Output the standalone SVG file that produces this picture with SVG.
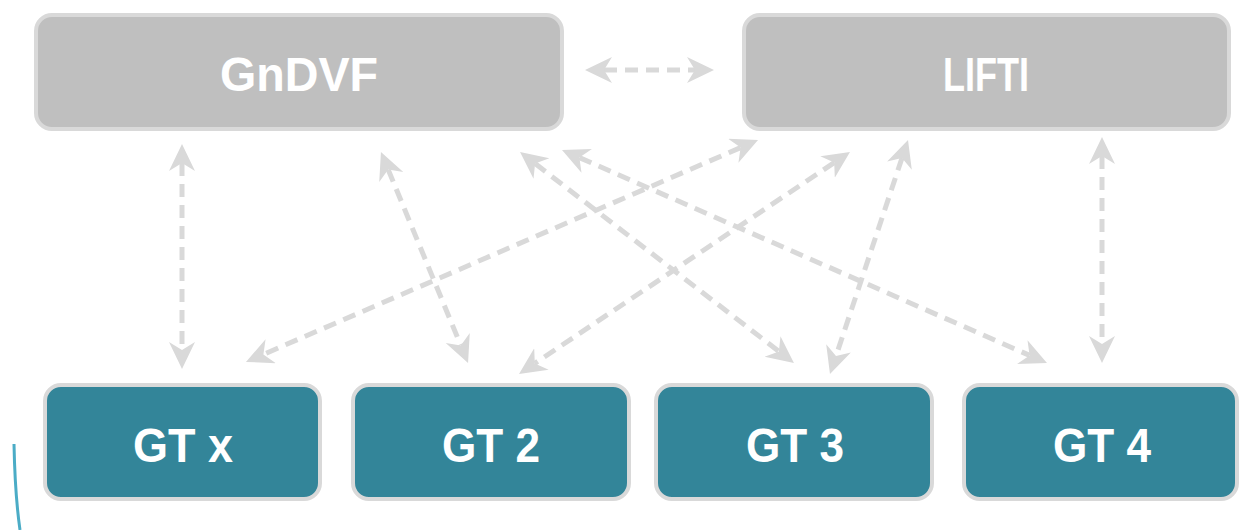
<svg xmlns="http://www.w3.org/2000/svg" width="1240" height="530" viewBox="0 0 1240 530">
<style>
.top rect{fill:#bfbfbf;stroke:#d9d9d9;stroke-width:4}
.gt rect{fill:#338599;stroke:#d9d9d9;stroke-width:4}
text{font-family:"Liberation Sans",Arial,sans-serif;font-weight:bold;font-size:48px;fill:#ffffff;text-anchor:middle}
.conn line{stroke:#d9d9d9;stroke-width:5;stroke-dasharray:13 8;marker-start:url(#ah);marker-end:url(#ah)}
</style>
<defs>
<marker id="ah" markerUnits="userSpaceOnUse" markerWidth="28" markerHeight="27" viewBox="0 0 28 27" refX="8" refY="13" orient="auto-start-reverse">
<path d="M0,0 L27,13 L0,26 L8,13 z" fill="#d9d9d9"/>
</marker>
</defs>
<rect width="1240" height="530" fill="#ffffff"/>
<g id="connectors" class="conn">
<line x1="604" y1="70" x2="695" y2="70"/>
<line x1="182" y1="163" x2="182" y2="350"/>
<line x1="388.2" y1="169.6" x2="460.8" y2="345.4"/>
<line x1="535.1" y1="163.6" x2="778.9" y2="351.4"/>
<line x1="579.4" y1="157.6" x2="1029.6" y2="355.4"/>
<line x1="740.6" y1="147.6" x2="263.4" y2="354.4"/>
<line x1="834.2" y1="162.6" x2="534.8" y2="363.4"/>
<line x1="902" y1="158" x2="836" y2="356"/>
<line x1="1102" y1="156" x2="1102" y2="344"/>
</g>
<g id="gndvf" class="top">
<rect x="36" y="15" width="526" height="114" rx="16"/>
<text x="299" y="91" textLength="158" lengthAdjust="spacingAndGlyphs">GnDVF</text>
</g>
<g id="lifti" class="top">
<rect x="744" y="15" width="485" height="114" rx="16"/>
<text x="986" y="91" textLength="86" lengthAdjust="spacingAndGlyphs">LIFTI</text>
</g>
<g id="gtx" class="gt">
<rect x="45" y="385" width="275" height="114" rx="16"/>
<text x="183" y="462" textLength="100" lengthAdjust="spacingAndGlyphs">GT x</text>
</g>
<g id="gt2" class="gt">
<rect x="353" y="385" width="276" height="114" rx="16"/>
<text x="491" y="462" textLength="98" lengthAdjust="spacingAndGlyphs">GT 2</text>
</g>
<g id="gt3" class="gt">
<rect x="656" y="385" width="276" height="114" rx="16"/>
<text x="795" y="462" textLength="98" lengthAdjust="spacingAndGlyphs">GT 3</text>
</g>
<g id="gt4" class="gt">
<rect x="964" y="385" width="273" height="114" rx="16"/>
<text x="1102" y="462" textLength="98" lengthAdjust="spacingAndGlyphs">GT 4</text>
</g>
<path d="M14,444 Q15,495 20,530" fill="none" stroke="#4bacc6" stroke-width="3"/>
</svg>
